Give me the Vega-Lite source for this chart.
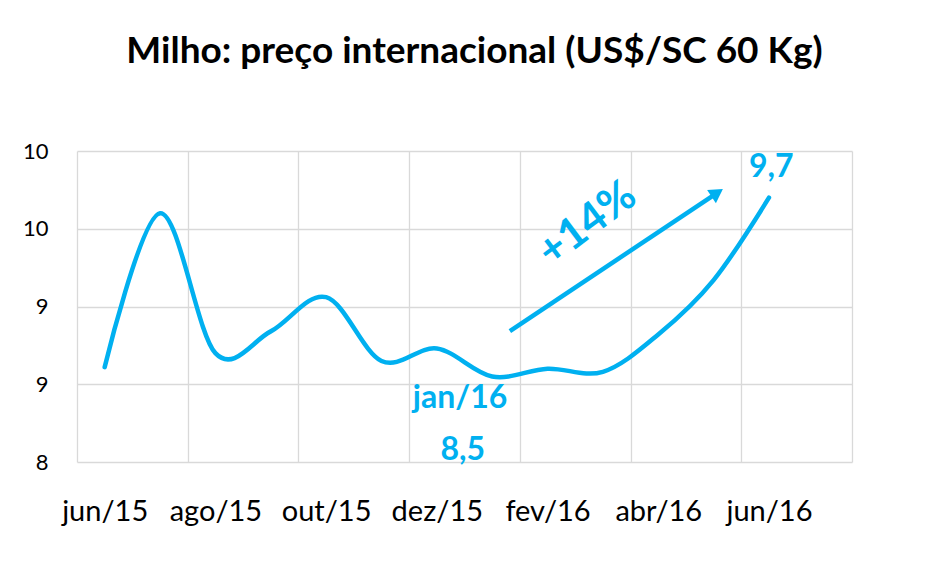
{
  "$schema": "https://vega.github.io/schema/vega-lite/v6.json",
  "width": 775,
  "height": 311,
  "autosize": "none",
  "padding": {"left": 77, "top": 151, "right": 83, "bottom": 116},
  "background": "white",
  "config": {"font": "Lato", "view": {"stroke": null}},
  "title": {
    "text": "Milho: preço internacional (US$/SC 60 Kg)",
    "fontSize": 37,
    "fontWeight": "bold",
    "color": "#000000",
    "anchor": "middle",
    "frame": "group",
    "dx": 10,
    "offset": 40,
    "baseline": "alphabetic"
  },
  "datasets": {
    "preco": [
      {"mes": "jun/15", "i": 0, "v": 8.61},
      {"mes": "jul/15", "i": 1, "v": 9.60},
      {"mes": "ago/15", "i": 2, "v": 8.70},
      {"mes": "set/15", "i": 3, "v": 8.84},
      {"mes": "out/15", "i": 4, "v": 9.06},
      {"mes": "nov/15", "i": 5, "v": 8.65},
      {"mes": "dez/15", "i": 6, "v": 8.73},
      {"mes": "jan/16", "i": 7, "v": 8.55},
      {"mes": "fev/16", "i": 8, "v": 8.60},
      {"mes": "mar/16", "i": 9, "v": 8.58},
      {"mes": "abr/16", "i": 10, "v": 8.82},
      {"mes": "mai/16", "i": 11, "v": 9.17},
      {"mes": "jun/16", "i": 12, "v": 9.70}
    ],
    "seta": [
      {"i": 7.32, "v": 8.842},
      {"i": 11.065, "v": 9.731}
    ],
    "ponta": [
      {"i": 11.065, "v": 9.731}
    ],
    "rotulos": [
      {"i": 6.42, "v": 8.347, "texto": "jan/16"},
      {"i": 6.47, "v": 8.013, "texto": "8,5"},
      {"i": 12.04, "v": 9.833, "texto": "9,7"}
    ],
    "variacao": [
      {"i": 8.72, "v": 9.53, "texto": "+14%"}
    ]
  },
  "layer": [
    {
      "data": {"name": "preco"},
      "mark": {"type": "line", "interpolate": "cardinal", "color": "#00b0f0", "strokeWidth": 4.5, "strokeCap": "round"},
      "encoding": {
        "x": {
          "field": "i",
          "type": "quantitative",
          "scale": {"domain": [-0.5, 13.5], "nice": false, "zero": false},
          "axis": {
            "title": null,
            "values": [-0.5, 1.5, 3.5, 5.5, 7.5, 9.5, 11.5, 13.5],
            "grid": true,
            "gridColor": "#d9d9d9",
            "gridWidth": 1.3,
            "domain": false,
            "ticks": false,
            "tickSize": 0,
            "labelOffset": 27.68,
            "labelExpr": "['jun/15','ago/15','out/15','dez/15','fev/16','abr/16','jun/16',''][round((datum.value+0.5)/2)]",
            "labelFontSize": 29,
            "labelColor": "#000000",
            "labelPadding": 58,
            "labelBaseline": "alphabetic",
            "labelFlush": false,
            "labelOverlap": false,
            "labelBound": false
          }
        },
        "y": {
          "field": "v",
          "type": "quantitative",
          "scale": {"domain": [8, 10], "nice": false, "zero": false},
          "axis": {
            "title": null,
            "values": [8, 8.5, 9, 9.5, 10],
            "labelExpr": "'' + round(datum.value)",
            "tickCount": 5,
            "grid": true,
            "gridColor": "#d9d9d9",
            "gridWidth": 1.3,
            "domain": false,
            "ticks": false,
            "tickSize": 0,
            "labelPadding": 29,
            "labelFontSize": 22,
            "labelColor": "#000000",
            "labelOverlap": false,
            "labelFlush": false
          }
        }
      }
    },
    {
      "data": {"name": "seta"},
      "mark": {"type": "line", "color": "#00b0f0", "strokeWidth": 4.5, "strokeCap": "butt"},
      "encoding": {
        "x": {"field": "i", "type": "quantitative"},
        "y": {"field": "v", "type": "quantitative"}
      }
    },
    {
      "data": {"name": "ponta"},
      "mark": {"type": "point", "shape": "triangle-up", "filled": true, "color": "#00b0f0", "size": 250, "angle": 56.3, "opacity": 1},
      "encoding": {
        "x": {"field": "i", "type": "quantitative"},
        "y": {"field": "v", "type": "quantitative"}
      }
    },
    {
      "data": {"name": "rotulos"},
      "mark": {"type": "text", "color": "#00b0f0", "fontSize": 32, "fontWeight": "bold", "align": "center", "baseline": "alphabetic"},
      "encoding": {
        "x": {"field": "i", "type": "quantitative"},
        "y": {"field": "v", "type": "quantitative"},
        "text": {"field": "texto"}
      }
    },
    {
      "data": {"name": "variacao"},
      "mark": {"type": "text", "color": "#00b0f0", "fontSize": 43, "fontWeight": "bold", "align": "center", "baseline": "middle", "angle": -37},
      "encoding": {
        "x": {"field": "i", "type": "quantitative"},
        "y": {"field": "v", "type": "quantitative"},
        "text": {"field": "texto"}
      }
    }
  ]
}
